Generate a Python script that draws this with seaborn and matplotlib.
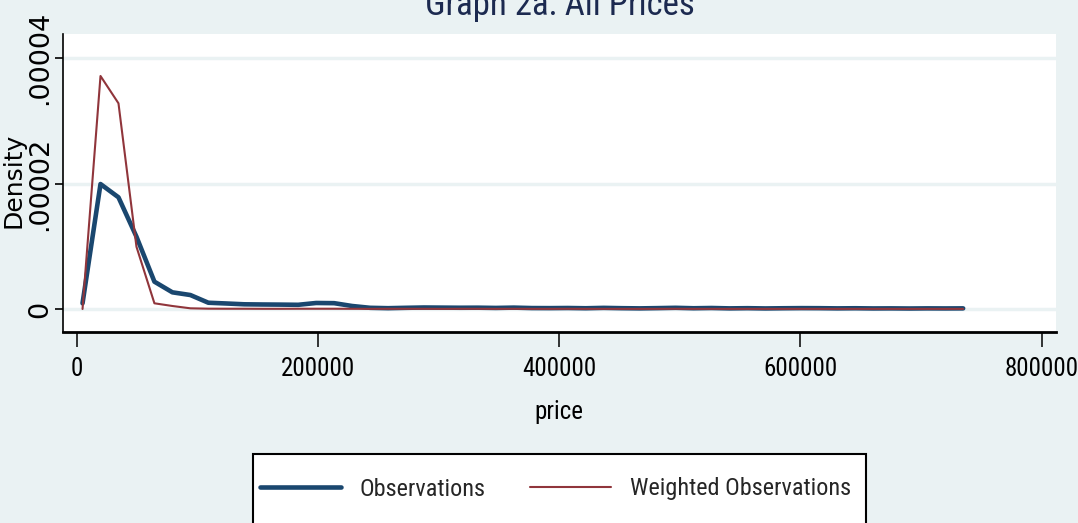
import numpy as np
import pandas as pd
import matplotlib
matplotlib.use("Agg")
import matplotlib.pyplot as plt
import seaborn as sns
from matplotlib import font_manager as fm
from matplotlib.lines import Line2D
from matplotlib.patches import Rectangle

# Evaluation grid of the density estimates (price)
price_grid = [
    4600, 19506, 34412, 49318, 64224, 79130, 94036, 108942, 123848, 138754,
    153660, 168566, 183472, 198378, 213284, 228190, 243096, 258002, 272908, 287814,
    302720, 317626, 332532, 347438, 362344, 377250, 392156, 407062, 421968, 436874,
    451780, 466686, 481592, 496498, 511404, 526310, 541216, 556122, 571028, 585934,
    600840, 615746, 630652, 645558, 660464, 675370, 690276, 705182, 720088, 734994,
]

# Densities, in units of 1e-6
obs_density = [
    0.91, 19.94, 17.82, 11.54, 4.36, 2.66, 2.23, 1.00, 0.88, 0.75,
    0.72, 0.70, 0.67, 0.96, 0.93, 0.48, 0.19, 0.13, 0.19, 0.24,
    0.22, 0.20, 0.21, 0.17, 0.22, 0.15, 0.14, 0.16, 0.12, 0.18,
    0.13, 0.10, 0.14, 0.19, 0.12, 0.16, 0.10, 0.13, 0.09, 0.12,
    0.14, 0.13, 0.10, 0.12, 0.09, 0.10, 0.08, 0.10, 0.09, 0.10,
]
weighted_density = [
    0.00, 37.18, 32.82, 9.94, 0.91, 0.48, 0.11, 0.05, 0.04, 0.04,
    0.03, 0.03, 0.04, 0.04, 0.04, 0.03, 0.02, 0.03, 0.03, 0.03,
    0.02, 0.03, 0.03, 0.02, 0.03, 0.02, 0.02, 0.03, 0.02, 0.02,
    0.02, 0.02, 0.02, 0.03, 0.02, 0.02, 0.02, 0.02, 0.02, 0.02,
    0.02, 0.02, 0.02, 0.02, 0.02, 0.02, 0.02, 0.02, 0.02, 0.02,
]

series_names = ["Observations", "Weighted Observations"]
x_ticks = [0, 200000, 400000, 600000, 800000]
x_tick_labels = ["0", "200000", "400000", "600000", "800000"]
y_ticks = [0, 0.00002, 0.00004]
y_tick_labels = ["0", ".00002", ".00004"]
title_text = "Graph 2a: All Prices"

BG = "#EAF2F3"
BLUE = "#1A476F"
RED = "#90353B"
W, H = 1078, 523

sns.set_theme(style="ticks")
plt.rcParams["font.family"] = ["Liberation Sans", "DejaVu Sans"]


def narrow_font():
    """Pick an installed upright, regular-weight narrow sans font file."""
    wanted = ["Liberation Sans Narrow", "Arial Narrow", "Roboto Condensed",
              "Open Sans Condensed", "Noto Sans Condensed", "DejaVu Sans"]
    narrow = [f for f in fm.fontManager.ttflist
              if f.style == "normal"
              and f.weight in (400, "normal", "regular")
              and ("condensed" in str(f.stretch) or "Narrow" in f.name
                   or "Condensed" in f.name or "Narrow" in f.fname
                   or "Condensed" in f.fname)
              and "Mono" not in f.name and "Serif" not in f.name]
    for name in wanted:
        for f in narrow:
            if f.name == name or name.replace(" ", "") in f.fname.replace("-", ""):
                return fm.FontProperties(fname=f.fname)
    if narrow:
        return fm.FontProperties(fname=narrow[0].fname)
    return fm.FontProperties(family="Liberation Sans")


NARROW = narrow_font()


def fp(size):
    p = NARROW.copy()
    p.set_size(size)
    return p


df = pd.DataFrame({
    "price": price_grid * 2,
    "density": np.concatenate([np.array(obs_density), np.array(weighted_density)]) * 1e-6,
    "series": [series_names[0]] * len(price_grid) + [series_names[1]] * len(price_grid),
})

fig = plt.figure(figsize=(W / 100, H / 100), dpi=100, facecolor=BG)
ax = fig.add_axes([63 / W, 1 - 332 / H, 993 / W, 298 / H])
ax.set_facecolor("white")

sns.lineplot(data=df[df.series == series_names[0]], x="price", y="density",
             color=BLUE, linewidth=3.3, ax=ax, estimator=None, sort=False,
             solid_joinstyle="round", zorder=3)
sns.lineplot(data=df[df.series == series_names[1]], x="price", y="density",
             color=RED, linewidth=1.5, ax=ax, estimator=None, sort=False,
             solid_joinstyle="round", zorder=4)

ax.set_xlim(-11600, 812000)
ax.set_ylim(-3.67e-6, 4.388e-5)

ax.set_xticks(x_ticks)
ax.set_xticklabels(x_tick_labels, fontproperties=fp(18))
ax.set_yticks(y_ticks)
ax.set_yticklabels(y_tick_labels, rotation=90, va="center",
                   fontfamily="DejaVu Sans", fontsize=19.5)

ax.tick_params(axis="x", length=11, width=1.1, color="black", pad=7,
               labelcolor="black", direction="out", bottom=True)
ax.tick_params(axis="y", length=6, width=1.2, color="black", pad=1,
               labelcolor="black", direction="out", left=True)

ax.grid(axis="y", color=BG, linewidth=2.5)
ax.grid(axis="x", visible=False)
ax.set_axisbelow(True)

for side in ("top", "right"):
    ax.spines[side].set_visible(False)
ax.spines["left"].set_color("black")
ax.spines["left"].set_linewidth(1.2)
ax.spines["bottom"].set_color("black")
ax.spines["bottom"].set_linewidth(2.0)

ax.set_xlabel("price", fontproperties=fp(18), color="black")
ax.xaxis.set_label_coords((559 - 63) / 993, (332 - 400) / 298)
ax.set_ylabel("Density", fontsize=18, color="black", fontfamily="DejaVu Sans")
ax.yaxis.set_label_coords((26 - 63) / 993, (332 - 180) / 298)

fig.text(560 / W, 1 - 15 / H, title_text, ha="center", va="baseline",
         fontproperties=fp(25), color="#1C2A50")

# Legend box, open at the bottom edge of the figure
fig.add_artist(Rectangle((253 / W, -0.05), (866 - 253) / W, (1 - 454 / H) + 0.05,
                         transform=fig.transFigure, facecolor="white",
                         edgecolor="black", linewidth=1.5, zorder=0))
handles = [Line2D([], [], color=BLUE, linewidth=3.3),
           Line2D([], [], color=RED, linewidth=1.5)]
fig.legend(handles, series_names, loc="center",
           bbox_to_anchor=(555.5 / W, 1 - 489 / H), ncol=2, frameon=False,
           prop=fp(17.5), handlelength=3.33, handletextpad=0.78,
           columnspacing=1.81, borderpad=0)

fig.savefig("out.png", dpi=100, facecolor=BG)
